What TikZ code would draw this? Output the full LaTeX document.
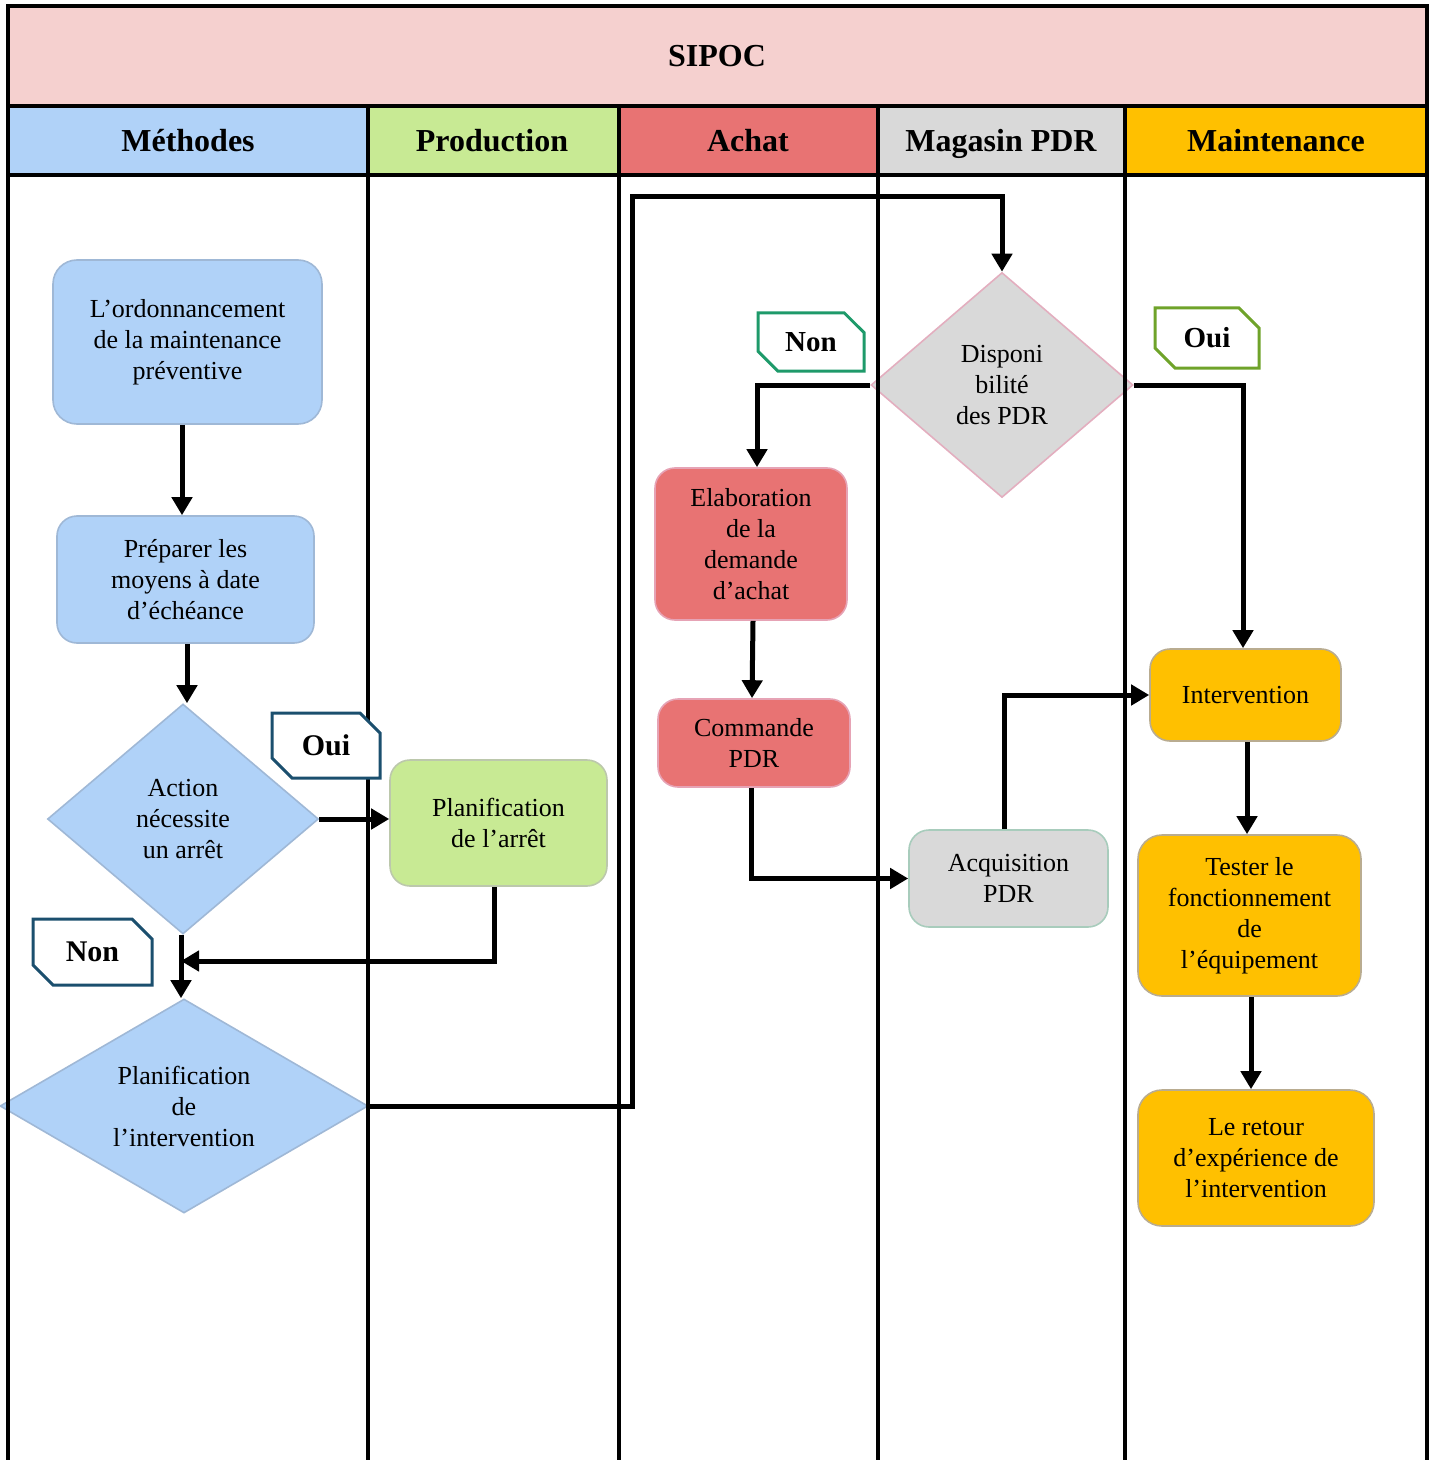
\documentclass[tikz,border=0pt]{standalone}
\usepackage{fontspec}
\setmainfont{Liberation Serif}
\usetikzlibrary{shapes.geometric,shapes.misc,arrows.meta}

\definecolor{sipocband}{HTML}{F5D0CF}
\definecolor{bluefill}{HTML}{B0D2F8}
\definecolor{blueline}{HTML}{9FB8D6}
\definecolor{greenfill}{HTML}{C8EA94}
\definecolor{greenline}{HTML}{BCC8AC}
\definecolor{redfill}{HTML}{E87373}
\definecolor{redline}{HTML}{E6A3B5}
\definecolor{greyfill}{HTML}{D9D9D9}
\definecolor{yellowfill}{HTML}{FFC000}
\definecolor{yellowline}{HTML}{B9AC90}
\definecolor{acqline}{HTML}{A8CCBC}
\definecolor{dispoline}{HTML}{E3AEBF}
\definecolor{tagnavy}{HTML}{1B4F6E}
\definecolor{tagteal}{HTML}{1E9A6A}
\definecolor{tagolive}{HTML}{6FA32A}

\begin{document}
\begin{tikzpicture}[x=0.5pt,y=-0.5pt,
  box/.style={rectangle, rounded corners=10pt, line width=0.8pt, align=center,
    inner sep=0pt, font=\fontsize{13}{15.5}\selectfont},
  decision/.style={diamond, line width=0.8pt, align=center, inner sep=0pt,
    font=\fontsize{13}{15.5}\selectfont},
  tag/.style={chamfered rectangle, chamfered rectangle corners={north east,south west},
    chamfered rectangle xsep=5pt, chamfered rectangle ysep=5pt,
    fill=white, line width=1.5pt, inner sep=0pt,
    font=\bfseries\fontsize{15}{18}\selectfont},
  head/.style={anchor=base, font=\bfseries\fontsize{16}{19}\selectfont},
  flow/.style={line width=2.5pt, -{Triangle[length=9pt,width=10pt]}},
  rule/.style={line width=1.6pt}
]
\useasboundingbox (0,0) rectangle (1434,1460);

% ---- swimlane header fills ----
\fill[sipocband] (8,6) rectangle (1427,106);
\fill[bluefill]   (8,106)    rectangle (368,175);
\fill[greenfill]  (368,106)  rectangle (619,175);
\fill[redfill]    (619,106)  rectangle (878,175);
\fill[greyfill]   (878,106)  rectangle (1125,175);
\fill[yellowfill] (1125,106) rectangle (1427,175);

\node[head] (title) at (717,67) {SIPOC};
\node[head] (h1) at (188,152) {Méthodes};
\node[head] (h2) at (492,152) {Production};
\node[head] (h3) at (748,152) {Achat};
\node[head] (h4) at (1001,152) {Magasin PDR};
\node[head] (h5) at (1276,152) {Maintenance};

% ---- process steps ----
\node[box, fill=bluefill, draw=blueline, minimum width=134.5pt, minimum height=82pt, rounded corners=12pt]
  (ord) at (187.5,342) {L’ordonnancement\\de la maintenance\\préventive};
\node[box, fill=bluefill, draw=blueline, minimum width=128.5pt, minimum height=63.5pt]
  (prep) at (185.5,579.5) {Préparer les\\moyens à date\\d’échéance};
\node[decision, fill=bluefill, draw=blueline, minimum width=135.5pt, minimum height=115pt, aspect=1.18]
  (action) at (183,819) {Action\\nécessite\\un arrêt};
\node[box, fill=greenfill, draw=greenline, minimum width=108.5pt, minimum height=63pt]
  (arret) at (498.5,823) {Planification\\de l’arrêt};
\node[decision, fill=bluefill, draw=blueline, minimum width=184pt, minimum height=107pt, aspect=1.72]
  (interv) at (184,1106) {Planification\\de\\l’intervention};
\node[decision, fill=greyfill, draw=dispoline, minimum width=131pt, minimum height=112.5pt, aspect=1.16]
  (dispo) at (1002,385) {Disponi\\bilité\\des PDR};
\node[box, fill=redfill, draw=redline, minimum width=96pt, minimum height=76pt]
  (elab) at (751,544) {Elaboration\\de la\\demande\\d’achat};
\node[box, fill=redfill, draw=redline, minimum width=96pt, minimum height=44pt]
  (cmd) at (754,743) {Commande\\PDR};
\node[box, fill=greyfill, draw=acqline, minimum width=99.5pt, minimum height=48.5pt]
  (acq) at (1008.5,878.5) {Acquisition\\PDR};
\node[box, fill=yellowfill, draw=yellowline, minimum width=95.5pt, minimum height=46pt]
  (intv) at (1245.5,695) {Intervention};
\node[box, fill=yellowfill, draw=yellowline, minimum width=111.5pt, minimum height=80.5pt, rounded corners=12pt]
  (test) at (1249.5,915.5) {Tester le\\fonctionnement\\de\\l’équipement};
\node[box, fill=yellowfill, draw=yellowline, minimum width=118pt, minimum height=68pt, rounded corners=12pt]
  (retour) at (1256,1158) {Le retour\\d’expérience de\\l’intervention};

% ---- swimlane rules ----
\draw[rule] (8,1460) -- (8,6) -- (1427,6) -- (1427,1460);
\draw[rule] (8,106) -- (1427,106);
\draw[rule] (8,175) -- (1427,175);
\foreach \xx in {368,619,878,1125} \draw[rule] (\xx,106) -- (\xx,1460);

% ---- decision tags ----
\node[tag, draw=tagnavy, minimum width=54pt, minimum height=32.5pt] (ouiA) at (326,745.5) {Oui};
\node[tag, draw=tagnavy, minimum width=59.5pt, minimum height=33pt] (nonA) at (92.5,952) {Non};
\node[tag, draw=tagteal, minimum width=53pt, minimum height=29pt, font=\bfseries\fontsize{14.5}{17}\selectfont] (nonB) at (811,342) {Non};
\node[tag, draw=tagolive, minimum width=52pt, minimum height=30pt, font=\bfseries\fontsize{14.5}{17}\selectfont] (ouiB) at (1207,338) {Oui};

% ---- flow connectors ----
\coordinate (merge) at (181,961);
\coordinate (upturn) at (632,197);

\draw[flow] (ord.south -| 182,0) -- (prep.north -| 182,0);
\draw[flow] (prep.south -| 187,0) -- (action.north -| 187,0);
\draw[flow] (action.east) -- (arret.west |- action.east);
\draw[flow] (arret.south -| 494,0) |- (merge);
\draw[flow] (action.south -| 181,0) -- (interv.north -| 181,0);
\draw[flow] (interv.east) -| (upturn) -| (dispo.north);
\draw[flow] (dispo.west) -| (elab.north -| 757,0);
\draw[flow] (elab.south -| 753,0) -- (cmd.north -| 752,0);
\draw[flow] (cmd.south -| 751,0) |- (acq.west);
\draw[flow] (acq.north -| 1004,0) |- (intv.west);
\draw[flow] (dispo.east) -| (intv.north -| 1243,0);
\draw[flow] (intv.south -| 1247,0) -- (test.north -| 1247,0);
\draw[flow] (test.south -| 1251,0) -- (retour.north -| 1251,0);
\end{tikzpicture}
\end{document}
